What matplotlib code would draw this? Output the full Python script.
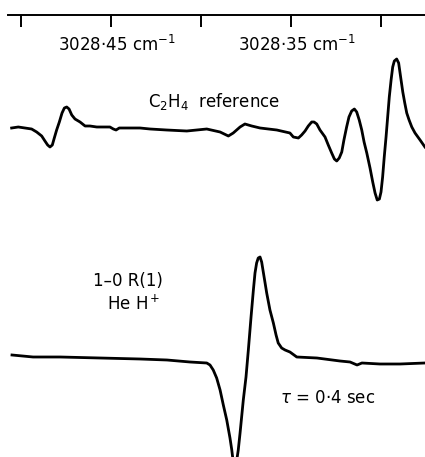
import matplotlib
matplotlib.use("Agg")
from matplotlib import pyplot as plt

plt.rcParams['font.family'] = ['DejaVu Sans']
plt.rcParams['mathtext.fontset'] = 'dejavusans'

# wavenumber scale (cm-1), decreasing to the right
tick_nu = [3028.50, 3028.45, 3028.40, 3028.35, 3028.30]
label_nu = [3028.45, 3028.35]
label_txt = ["3028·45 cm$^{-1}$", "3028·35 cm$^{-1}$"]

# C2H4 reference trace (arbitrary units)
ref_nu = [3028.5052, 3028.5015, 3028.4978, 3028.4941, 3028.4913, 3028.4885,
          3028.4867, 3028.4852, 3028.4839, 3028.4826, 3028.4815, 3028.4802,
          3028.4787, 3028.4772, 3028.4759, 3028.4746, 3028.4733, 3028.4718,
          3028.4700, 3028.4672, 3028.4644, 3028.4617, 3028.4579, 3028.4543,
          3028.4506, 3028.4487, 3028.4472, 3028.4454, 3028.4413, 3028.4376,
          3028.4339, 3028.4283, 3028.4191, 3028.4079, 3028.3968, 3028.3894,
          3028.3848, 3028.3821, 3028.3783, 3028.3756, 3028.3718, 3028.3672,
          3028.3579, 3028.3506, 3028.3487, 3028.3459, 3028.3441, 3028.3422,
          3028.3404, 3028.3385, 3028.3372, 3028.3357, 3028.3339, 3028.3311,
          3028.3293, 3028.3274, 3028.3259, 3028.3246, 3028.3232, 3028.3218,
          3028.3206, 3028.3191, 3028.3178, 3028.3163, 3028.3148, 3028.3135,
          3028.3121, 3028.3107, 3028.3094, 3028.3079, 3028.3061, 3028.3046,
          3028.3033, 3028.3021, 3028.3009, 3028.3000, 3028.2991, 3028.2982,
          3028.2972, 3028.2963, 3028.2954, 3028.2944, 3028.2935, 3028.2926,
          3028.2913, 3028.2902, 3028.2891, 3028.2879, 3028.2868, 3028.2857,
          3028.2844, 3028.2829, 3028.2811, 3028.2783, 3028.2756]
ref_sig = [1, 2, 1, 0, -3, -7, -12, -16, -18, -16, -9, -1, 7, 16, 21, 22,
           20, 14, 10, 7, 3, 3, 2, 2, 2, 0, -1, 1, 1, 1, 1, 0, -1, -2, 0, -3,
           -7, -4, 2, 5, 3, 1, -1, -4, -8, -9, -6, -2, 3, 7, 7, 5, -1, -8,
           -16, -24, -30, -32, -29, -23, -11, 2, 12, 18, 20, 17, 9, -1, -13,
           -24, -39, -53, -64, -71, -70, -63, -48, -28, -8, 12, 32, 49, 62,
           68, 70, 66, 52, 37, 26, 16, 9, 2, -4, -11, -18]

# HeH+ 1-0 R(1) trace
heh_nu = [3028.5050, 3028.4933, 3028.4783, 3028.4561, 3028.4339, 3028.4189,
          3028.4061, 3028.3968, 3028.3950, 3028.3932, 3028.3913, 3028.3894,
          3028.3876, 3028.3857, 3028.3839, 3028.3829, 3028.3817, 3028.3806,
          3028.3793, 3028.3783, 3028.3765, 3028.3750, 3028.3737, 3028.3722,
          3028.3709, 3028.3700, 3028.3691, 3028.3682, 3028.3672, 3028.3663,
          3028.3654, 3028.3644, 3028.3635, 3028.3617, 3028.3598, 3028.3583,
          3028.3571, 3028.3552, 3028.3533, 3028.3506, 3028.3468, 3028.3356,
          3028.3228, 3028.3172, 3028.3133, 3028.3106, 3028.3006, 3028.2894,
          3028.2756]
heh_sig = [5, 3, 3, 2, 1, 0, -2, -3, -5, -10, -18, -30, -45, -60, -78, -90,
           -108, -106, -90, -73, -40, -17, 10, 43, 70, 87, 97, 102, 103, 98,
           88, 77, 67, 50, 37, 25, 17, 12, 10, 8, 3, 2, -1, -2, -5, -3, -4,
           -4, -3]

ref_base = 328
heh_base = 97

fig = plt.figure(figsize=(4.25, 4.57), dpi=100)
ax = fig.add_axes([8 / 425, 0, 417 / 425, 442 / 457])
ax.set_xlim(3028.50722, 3028.27556)
ax.set_ylim(0, 442)

ax.plot(ref_nu, [s + ref_base for s in ref_sig], color='black', lw=2.0,
        solid_joinstyle='round')
ax.plot(heh_nu, [s + heh_base for s in heh_sig], color='black', lw=2.0,
        solid_joinstyle='round')

for side in ['left', 'right', 'bottom']:
    ax.spines[side].set_visible(False)
ax.spines['top'].set_linewidth(1.4)
ax.set_yticks([])
ax.set_xticks(tick_nu)
ax.tick_params(axis='x', top=True, bottom=False, labelbottom=False,
               labeltop=False, direction='in', length=8.6, width=1.4)

for nu, txt in zip(label_nu, label_txt):
    ax.annotate(txt, (nu, 412), xytext=(4, 0), textcoords='offset points',
                ha='center', va='center', fontsize=12)

ax.text(3028.3928, 355, "C$_2$H$_4$  reference", ha='center', va='center',
        fontsize=12)
ax.text(3028.4406, 176, "1–0 R(1)", ha='center', va='center', fontsize=12)
ax.text(3028.4372, 153, "He H$^+$", ha='center', va='center', fontsize=12)
ax.text(3028.3294, 59, "$\\tau$ = 0·4 sec", ha='center', va='center',
        fontsize=12)

fig.savefig("out.png", dpi=100)
